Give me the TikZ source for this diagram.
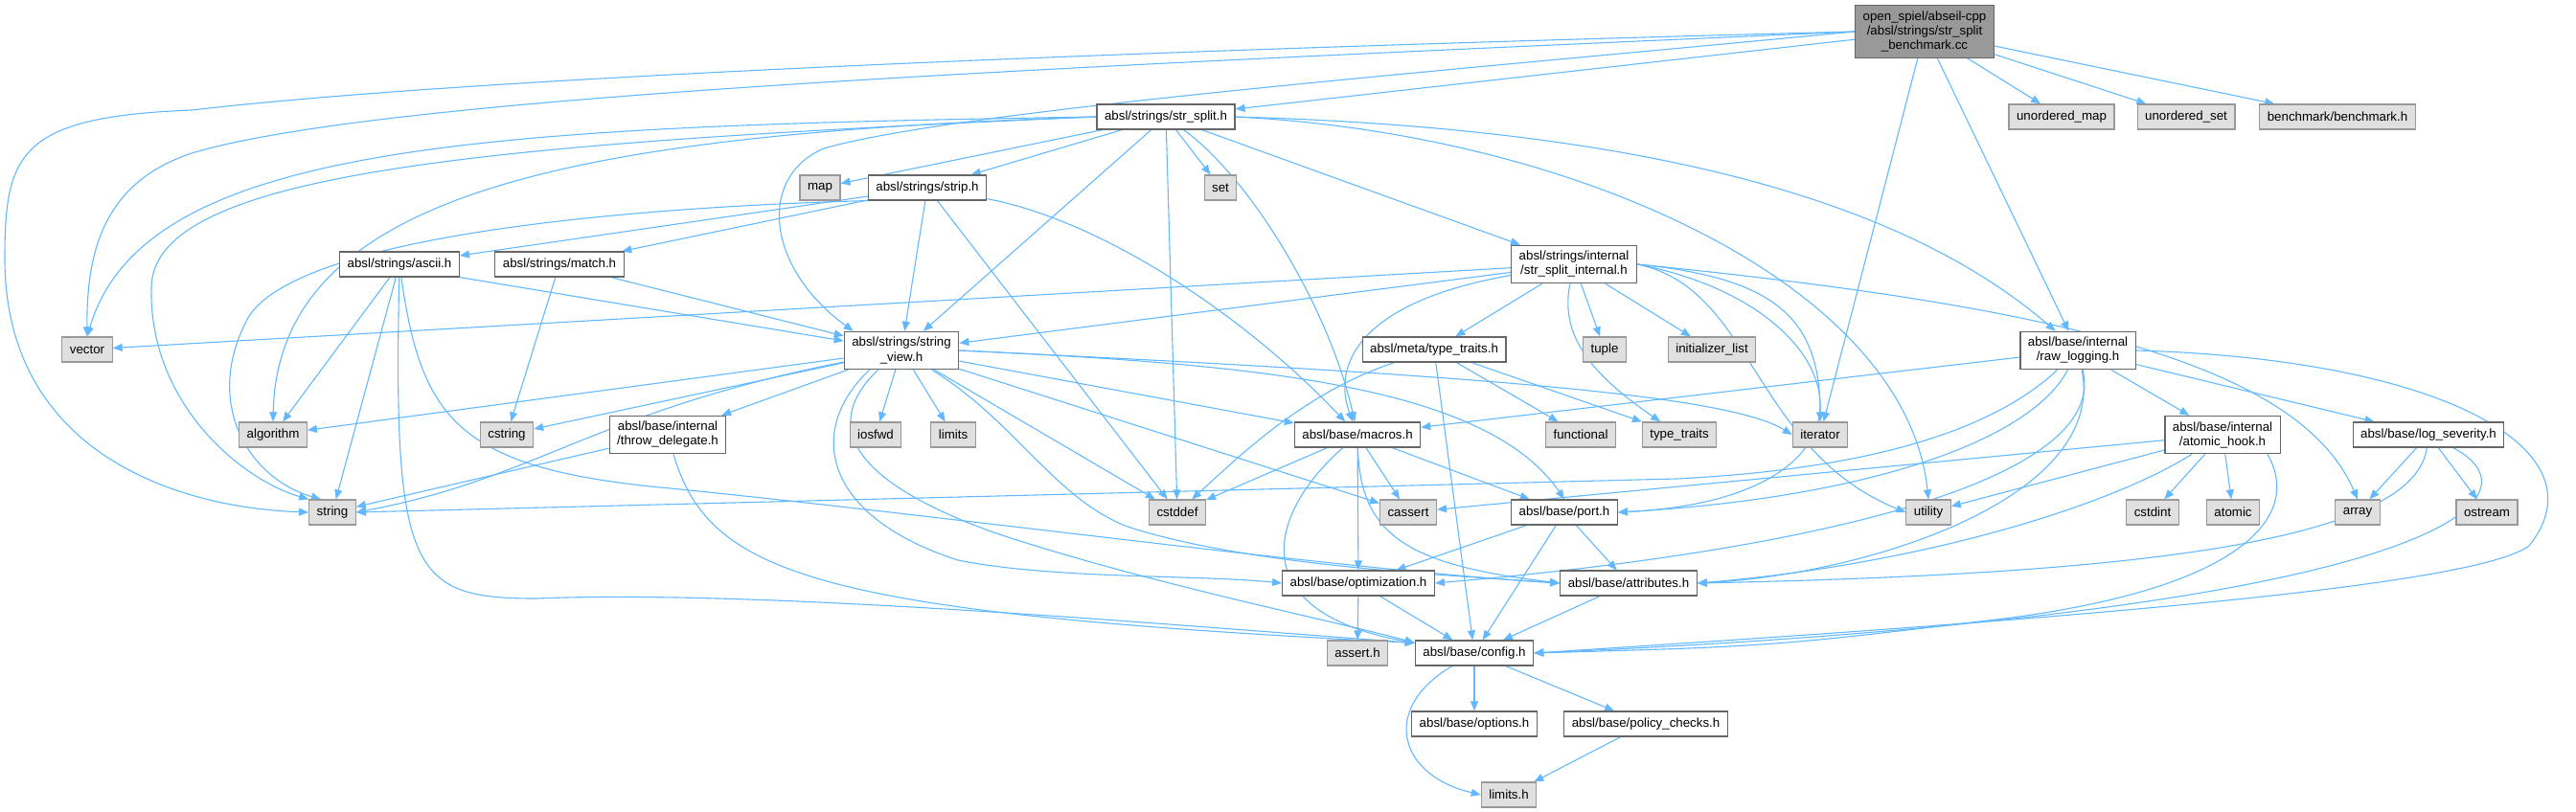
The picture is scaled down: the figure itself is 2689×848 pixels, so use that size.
\documentclass[tikz,border=0pt]{standalone}
\usepackage{fontspec}
\setmainfont{Liberation Sans}
\usetikzlibrary{arrows.meta,backgrounds}
\definecolor{edgeblue}{HTML}{63B8FF}
\definecolor{sysfill}{HTML}{E0E0E0}
\definecolor{sysline}{HTML}{999999}
\definecolor{rootfill}{HTML}{999999}
\definecolor{boxline}{HTML}{666666}
\tikzset{
  hdr/.style={draw=boxline, fill=white, line width=1.2pt, minimum height=26pt,
    inner xsep=8pt, inner ysep=6pt, align=center, font=\fontsize{13.3}{15}\selectfont},
  sys/.style={hdr, draw=sysline, fill=sysfill},
  root/.style={hdr, fill=rootfill},
  dep/.style={draw=edgeblue, line width=1.1pt, -{Triangle[length=10pt,width=8pt]}}
}
\begin{document}
\begin{tikzpicture}[x=1pt,y=-1pt]
    \useasboundingbox (0,0) rectangle (2689,848);
    \node[root] (bench) at (2009,33) {open\_spiel/abseil-cpp\\/absl/strings/str\_split\\\_benchmark.cc};
    \node[hdr] (strsplit) at (1217,122) {absl/strings/str\_split.h};
    \node[sys] (umap) at (2152,122) {unordered\_map};
    \node[sys] (uset) at (2282,122) {unordered\_set};
    \node[sys] (bmark) at (2440,122) {benchmark/benchmark.h};
    \node[sys] (map) at (856,196) {map};
    \node[hdr] (strip) at (968,196) {absl/strings/strip.h};
    \node[sys] (set) at (1274,196) {set};
    \node[hdr] (ascii) at (417,276) {absl/strings/ascii.h};
    \node[hdr] (match) at (584,276) {absl/strings/match.h};
    \node[hdr] (ssint) at (1643,276) {absl/strings/internal\\/str\_split\_internal.h};
    \node[sys] (vector) at (91,365) {vector};
    \node[hdr] (sview) at (941,366) {absl/strings/string\\\_view.h};
    \node[hdr] (mtraits) at (1497,365) {absl/meta/type\_traits.h};
    \node[sys] (tuple) at (1675,365) {tuple};
    \node[sys] (initlist) at (1787,365) {initializer\_list};
    \node[hdr] (rawlog) at (2169,366) {absl/base/internal\\/raw\_logging.h};
    \node[sys] (algorithm) at (285,454) {algorithm};
    \node[sys] (cstring) at (529,454) {cstring};
    \node[hdr] (throwdel) at (697,454) {absl/base/internal\\/throw\_delegate.h};
    \node[sys] (iosfwd) at (914,454) {iosfwd};
    \node[sys] (limits) at (995,454) {limits};
    \node[hdr] (macros) at (1417,454) {absl/base/macros.h};
    \node[sys] (functional) at (1650,454) {functional};
    \node[sys] (traits) at (1753,454) {type\_traits};
    \node[sys] (iterator) at (1900,454) {iterator};
    \node[hdr] (atomhook) at (2320,454) {absl/base/internal\\/atomic\_hook.h};
    \node[hdr] (logsev) at (2535,454) {absl/base/log\_severity.h};
    \node[sys] (string) at (347,535) {string};
    \node[sys] (cstddef) at (1229,535) {cstddef};
    \node[sys] (cassert) at (1470,535) {cassert};
    \node[hdr] (port) at (1633,535) {absl/base/port.h};
    \node[sys] (utility) at (2013,535) {utility};
    \node[sys] (cstdint) at (2247,535) {cstdint};
    \node[sys] (atomic) at (2331,535) {atomic};
    \node[sys] (array) at (2461,535) {array};
    \node[sys] (ostream) at (2596,535) {ostream};
    \node[hdr] (optim) at (1418,609) {absl/base/optimization.h};
    \node[hdr] (attrib) at (1700,609) {absl/base/attributes.h};
    \node[sys] (asserth) at (1417,682) {assert.h};
    \node[hdr] (config) at (1539,682) {absl/base/config.h};
    \node[hdr] (options) at (1539,756) {absl/base/options.h};
    \node[hdr] (policy) at (1718,756) {absl/base/policy\_checks.h};
    \node[sys] (limitsh) at (1575,830) {limits.h};

    \begin{scope}[on background layer]
    \draw[dep] (bench) -- (strsplit);
    \draw[dep] (bench) -- (umap);
    \draw[dep] (bench) -- (uset);
    \draw[dep] (bench) -- (bmark);
    \draw[dep] (bench) -- (iterator);
    \draw[dep] (bench) -- (rawlog);
    \draw[dep] (bench.west) .. controls (1200,52) and (500,80) .. (200,115) .. controls (20,122) and (5,160) .. (5,270) .. controls (5,470) and (180,530) .. (string.west);
    \draw[dep] (bench.west) .. controls (1100,70) and (400,100) .. (200,160) .. controls (110,190) and (90,260) .. (vector.north);
    \draw[dep] (bench.west) .. controls (1500,75) and (1000,115) .. (860,155) .. controls (790,185) and (800,280) .. ([xshift=10pt]sview.north west);

    \draw[dep] (strsplit) -- (map);
    \draw[dep] (strsplit) -- (strip);
    \draw[dep] (strsplit) -- (set);
    \draw[dep] (strsplit) -- (sview);
    \draw[dep] (strsplit) -- (cstddef);
    \draw[dep] (strsplit) .. controls (1310,190) and (1390,330) .. (macros);
    \draw[dep] (strsplit) -- (ssint);
    \draw[dep] (strsplit.east) .. controls (1750,135) and (2000,220) .. (rawlog);
    \draw[dep] (strsplit.east) .. controls (1650,140) and (1990,300) .. (utility.north);
    \draw[dep] (strsplit.west) .. controls (500,132) and (150,150) .. (vector.north);
    \draw[dep] (strsplit.west) .. controls (500,150) and (160,180) .. (158,300) .. controls (155,420) and (250,500) .. (string.north west);
    \draw[dep] (strsplit.west) .. controls (600,140) and (290,200) .. (algorithm.north);

    \draw[dep] (strip) -- (ascii);
    \draw[dep] (strip) -- (match);
    \draw[dep] (strip) -- (sview);
    \draw[dep] (strip) -- (cstddef);
    \draw[dep] (strip) .. controls (1150,230) and (1300,330) .. (macros);
    \draw[dep] (strip.south west) .. controls (700,215) and (320,240) .. (260,330) .. controls (210,420) and (260,500) .. ([xshift=-12pt]string.north);

    \draw[dep] (ascii) -- (algorithm);
    \draw[dep] (ascii) -- (string);
    \draw[dep] (ascii.south east) -- (sview);
    \draw[dep] (ascii) .. controls (410,600) and (430,625) .. (560,625) .. controls (800,615) and (1250,655) .. ([yshift=-3pt]config.north west);
    \draw[dep] (ascii) .. controls (440,440) and (480,490) .. (700,510) .. controls (1000,540) and (1400,595) .. (attrib.west);

    \draw[dep] (match) -- (cstring);
    \draw[dep] (match) -- (sview);

    \draw[dep] (ssint) -- (vector);
    \draw[dep] (ssint) -- (sview);
    \draw[dep] (ssint) -- (mtraits);
    \draw[dep] (ssint) -- (tuple);
    \draw[dep] (ssint) -- (initlist);
    \draw[dep] (ssint) .. controls (1628,350) and (1660,390) .. (traits);
    \draw[dep] (ssint) .. controls (1420,315) and (1390,380) .. (macros);
    \draw[dep] (ssint.east) .. controls (1850,290) and (1900,330) .. (iterator.north);
    \draw[dep] (ssint.east) .. controls (1830,300) and (1830,470) .. (utility.west);
    \draw[dep] (ssint.east) .. controls (1940,320) and (1990,520) .. (port.east);
    \draw[dep] (ssint.east) .. controls (2150,320) and (2400,380) .. (array.north);

    \draw[dep] (sview) -- (algorithm);
    \draw[dep] (sview) -- (cstring);
    \draw[dep] (sview) .. controls (620,430) and (560,500) .. (string.east);
    \draw[dep] (sview) -- (throwdel);
    \draw[dep] (sview) -- (iosfwd);
    \draw[dep] (sview) -- (limits);
    \draw[dep] (sview) -- (cstddef);
    \draw[dep] (sview) -- (cassert);
    \draw[dep] (sview) -- (macros);
    \draw[dep] (sview.east) .. controls (1300,380) and (1550,400) .. (port.north);
    \draw[dep] (sview.east) .. controls (1500,390) and (1800,410) .. (iterator.west);
    \draw[dep] ([xshift=27pt]sview.south west) .. controls (840,450) and (860,540) .. (1000,585) .. controls (1100,605) and (1250,600) .. (optim.west);
    \draw[dep] ([xshift=36pt]sview.south west) .. controls (860,440) and (880,500) .. (1040,557) .. controls (1200,610) and (1400,650) .. ([yshift=-3pt]config.north west);
    \draw[dep] ([xshift=92pt]sview.south west) .. controls (1060,440) and (1100,520) .. (1177,550) .. controls (1300,590) and (1500,600) .. (attrib.west);

    \draw[dep] (throwdel) -- (string);
    \draw[dep] (throwdel) .. controls (740,600) and (850,640) .. ([yshift=-3pt]config.north west);

    \draw[dep] (mtraits) .. controls (1360,410) and (1290,480) .. (cstddef);
    \draw[dep] (mtraits) -- (functional);
    \draw[dep] (mtraits) -- (traits);
    \draw[dep] (mtraits) -- (config);

    \draw[dep] (macros) -- (cstddef);
    \draw[dep] (macros) -- (cassert);
    \draw[dep] (macros) -- (port);
    \draw[dep] (macros) -- (optim);
    \draw[dep] (macros) .. controls (1320,540) and (1300,640) .. ([yshift=-3pt]config.north west);
    \draw[dep] (macros) .. controls (1420,560) and (1470,590) .. (attrib.west);

    \draw[dep] (port) -- (optim);
    \draw[dep] (port) -- (config);
    \draw[dep] (port) -- (attrib);

    \draw[dep] (optim) -- (asserth);
    \draw[dep] (optim) -- (config);
    \draw[dep] (attrib) -- (config);
    \draw[dep] (config) -- (options);
    \draw[dep] (config) -- (policy);
    \draw[dep] (config) .. controls (1440,740) and (1460,810) .. (limitsh.west);
    \draw[dep] (policy) -- (limitsh);

    \draw[dep] (rawlog) -- (macros);
    \draw[dep] (rawlog) -- (atomhook);
    \draw[dep] (rawlog) -- (logsev);
    \draw[dep] (rawlog.east) .. controls (2550,375) and (2720,470) .. (2640,570) .. controls (2580,615) and (2100,650) .. (config.east);
    \draw[dep] (rawlog) .. controls (2080,450) and (1950,490) .. (1750,500) -- (string.east);
    \draw[dep] (rawlog) .. controls (2120,460) and (1950,520) .. (port.east);
    \draw[dep] (rawlog) .. controls (2200,490) and (1950,570) .. (optim.east);
    \draw[dep] (rawlog) .. controls (2200,520) and (1950,600) .. (attrib.east);

    \draw[dep] (atomhook) -- (cstdint);
    \draw[dep] (atomhook) -- (atomic);
    \draw[dep] (atomhook) -- (utility);
    \draw[dep] (atomhook) -- (cassert);
    \draw[dep] (atomhook) .. controls (2200,530) and (2000,590) .. (attrib.east);
    \draw[dep] ([xshift=-14pt]atomhook.south east) .. controls (2400,530) and (2360,610) .. (2100,645) .. controls (1850,675) .. (config.east);

    \draw[dep] (logsev) -- (array);
    \draw[dep] (logsev) -- (ostream);
    \draw[dep] (logsev) .. controls (2520,570) and (2200,600) .. (attrib.east);
    \draw[dep] (logsev) .. controls (2660,520) and (2550,640) .. (config.east);
    \end{scope}
\end{tikzpicture}
\end{document}
